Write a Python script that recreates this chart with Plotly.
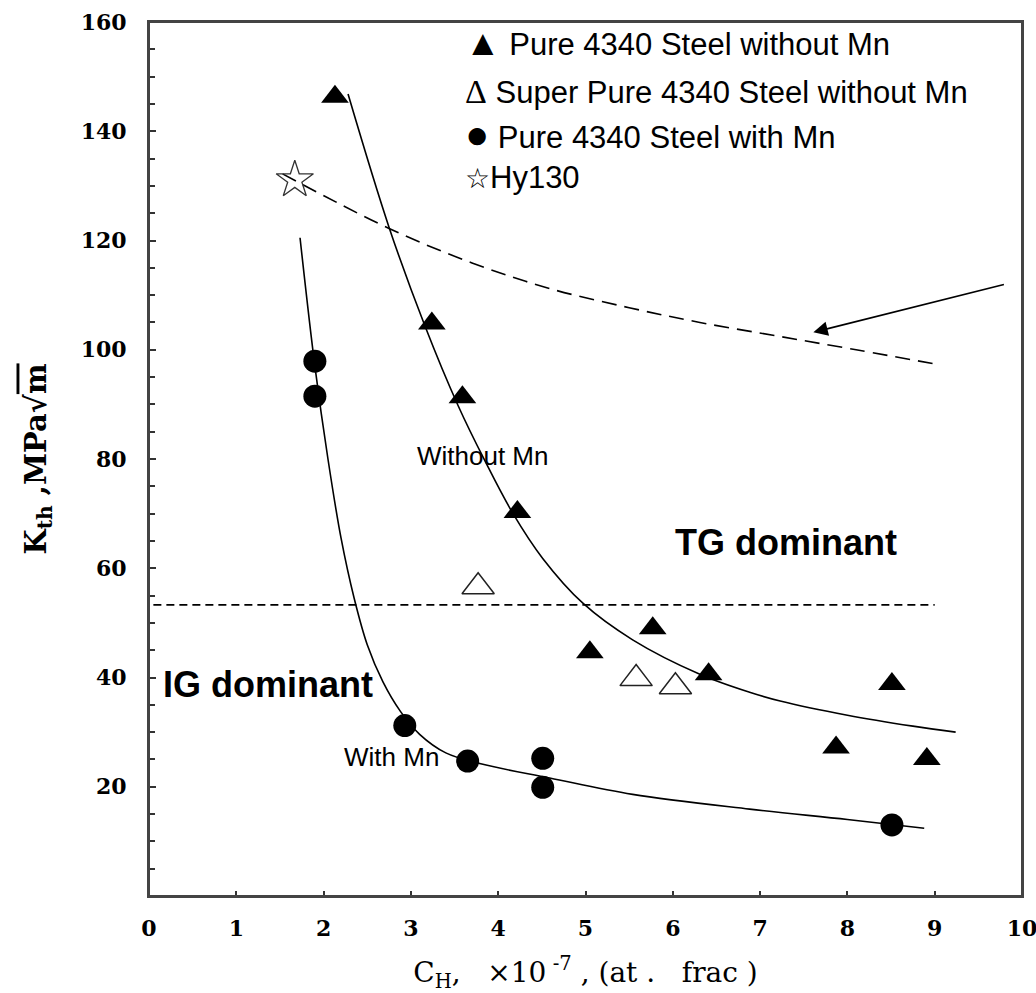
import plotly.graph_objects as go

# ---- data ----
# Pure 4340 steel without Mn (filled triangles)
tri_x = [2.13, 3.24, 3.59, 4.22, 5.05, 5.77, 6.41, 7.87, 8.51, 8.91]
tri_y = [146.3, 104.8, 91.3, 70.3, 44.6, 49.0, 40.6, 27.2, 38.8, 25.1]
# Super pure 4340 steel without Mn (open triangles)
otri_x = [3.77, 5.58, 6.03]
otri_y = [56.6, 39.8, 38.3]
# Pure 4340 steel with Mn (filled circles)
cir_x = [1.90, 1.90, 2.93, 3.65, 4.51, 4.51, 8.51]
cir_y = [97.9, 91.5, 31.2, 24.7, 25.2, 19.9, 13.0]
# Hy130 (open star)
star_x = [1.67]
star_y = [131.1]

# fitted curve "Without Mn"
fitA_x = [2.28, 2.75, 3.16, 3.54, 3.85, 4.17, 4.51, 4.97, 5.54, 6.31, 6.88, 7.23, 8.00, 8.75, 9.24]
fitA_y = [146.8, 122.4, 104.4, 89.8, 79.6, 70.0, 61.8, 53.6, 46.9, 40.6, 37.3, 35.7, 33.1, 31.1, 30.0]
# fitted curve "With Mn"
fitB_x = [1.73, 1.90, 2.05, 2.20, 2.35, 2.50, 2.68, 2.88, 3.10, 3.40, 3.80, 4.59, 5.54, 6.88, 8.00, 8.88]
fitB_y = [120.5, 97.0, 80.0, 65.5, 54.5, 46.0, 39.2, 33.8, 29.6, 26.2, 24.2, 21.6, 18.6, 15.9, 14.0, 12.4]
# Hy130 dashed curve
fitH_x = [1.53, 2.75, 3.70, 4.59, 5.50, 6.31, 7.20, 8.10, 9.07]
fitH_y = [132.2, 122.2, 115.9, 111.2, 107.7, 105.0, 102.5, 100.0, 97.2]
# IG / TG boundary
bound_x = [0.05, 9.0]
bound_y = [53.3, 53.3]

y_ticks = [20, 40, 60, 80, 100, 120, 140, 160]
x_ticks = list(range(0, 11))

fig = go.Figure()

line_style = dict(color="black", width=1.6)
fig.add_trace(go.Scatter(x=fitA_x, y=fitA_y, mode="lines", line=dict(shape="spline", **line_style), showlegend=False))
fig.add_trace(go.Scatter(x=fitB_x, y=fitB_y, mode="lines", line=dict(shape="spline", **line_style), showlegend=False))
fig.add_trace(go.Scatter(x=fitH_x, y=fitH_y, mode="lines",
                         line=dict(shape="spline", color="black", width=1.6, dash="15px,8px"), showlegend=False))
fig.add_trace(go.Scatter(x=bound_x, y=bound_y, mode="lines",
                         line=dict(color="black", width=1.6, dash="8px,5px"), showlegend=False))

fig.add_trace(go.Scatter(x=tri_x, y=tri_y, mode="markers", name="Pure 4340 Steel without Mn",
                         marker=dict(symbol="triangle-up", size=24, color="black"), showlegend=False))
fig.add_trace(go.Scatter(x=otri_x, y=otri_y, mode="markers", name="Super Pure 4340 Steel without Mn",
                         marker=dict(symbol="triangle-up-open", size=28, color="#222", line=dict(width=1.5)),
                         showlegend=False))
fig.add_trace(go.Scatter(x=cir_x, y=cir_y, mode="markers", name="Pure 4340 Steel with Mn",
                         marker=dict(symbol="circle", size=23, color="black"), showlegend=False))
fig.add_trace(go.Scatter(x=star_x, y=star_y, mode="markers", name="Hy130",
                         marker=dict(symbol="star-open", size=28, color="#333", line=dict(width=1.3)),
                         showlegend=False))

sans = "Liberation Sans, Arial, sans-serif"
ann = []
# legend block
leg_lines = [
    ("<span style='font-size:36px'>\u25B2</span> Pure 4340 Steel without Mn", 0.977),
    ("<span style='font-family:Liberation Serif;font-size:34px'>\u0394</span> Super Pure 4340 Steel without Mn", 0.921),
    ("<span style='font-size:40px'>\u25CF</span> Pure 4340 Steel with Mn", 0.872),
    ("<span style='font-size:28px'>\u2606</span>Hy130", 0.822),
]
for txt, yy in leg_lines:
    ann.append(dict(text=txt, xref="x domain", yref="y domain", x=0.360, y=yy, xanchor="left", yanchor="middle",
                    showarrow=False, font=dict(family=sans, size=31, color="black")))
# labels inside plot
ann.append(dict(text="Without Mn", x=3.83, y=80.5, showarrow=False, font=dict(family=sans, size=26, color="black")))
ann.append(dict(text="With Mn", x=2.78, y=25.4, showarrow=False, font=dict(family=sans, size=26, color="black")))
ann.append(dict(text="<b>TG dominant</b>", x=7.30, y=64.8, showarrow=False, font=dict(family=sans, size=36, color="black")))
ann.append(dict(text="<b>IG dominant</b>", x=1.36, y=38.7, showarrow=False, font=dict(family=sans, size=36, color="black")))
# arrow pointing at the Hy130 curve
ann.append(dict(text="", x=7.61, y=103.2, ax=9.81, ay=112.0, xref="x", yref="y", axref="x", ayref="y",
                showarrow=True, arrowhead=2, arrowsize=1.8, arrowwidth=1.6, arrowcolor="black"))

serif = "DejaVu Serif, Liberation Serif, serif"
fig.update_layout(
    width=1036, height=993,
    margin=dict(l=149, r=14, t=22, b=97),
    paper_bgcolor="white", plot_bgcolor="white",
    annotations=ann,
    showlegend=False,
    # frame box around the plotting area
    shapes=[dict(type="rect", xref="x domain", yref="y domain", x0=0, x1=1, y0=0, y1=1,
                 line=dict(color="#444", width=2), fillcolor="rgba(0,0,0,0)", layer="above")],
)
fig.update_xaxes(
    range=[0, 10], tickvals=x_ticks, ticks="inside", ticklen=5, tickwidth=1.5, tickcolor="#333",
    showline=True, linecolor="#444", linewidth=2, mirror=True, showgrid=False, zeroline=False,
    automargin=False, ticklabeloverflow="allow",
    tickfont=dict(family=serif, size=22, color="black", weight="bold"), ticklabelstandoff=12,
    title=dict(text="C<sub>H</sub>,   \u00d710<sup> -7</sup> , (at .   frac )",
               font=dict(family=serif, size=28, color="black"), standoff=24),
)
fig.update_yaxes(
    range=[0, 160], tickvals=y_ticks, ticks="inside", ticklen=7, tickwidth=1.5, tickcolor="#333",
    minor=dict(tickvals=[v for v in range(5, 160, 5) if v % 20 != 0], ticks="inside", ticklen=6,
               tickwidth=1.5, tickcolor="#333"),
    showline=True, linecolor="#444", linewidth=2, mirror=True, showgrid=False, zeroline=False,
    automargin=False, ticklabeloverflow="allow",
    tickfont=dict(family=serif, size=22, color="black", weight="bold"), ticklabelstandoff=16,
    title=dict(text="<b>K<sub>th</sub> ,MPa\u221a<span style='text-decoration:overline'>m</span></b>",
               font=dict(family=serif, size=29, color="black"), standoff=26),
)

# remove the page's default body margin so the 1036x993 figure fills the window exactly
fig.write_html("out.html", config={"displayModeBar": False},
               post_script="document.body.style.margin='0';document.body.style.overflow='hidden';")
